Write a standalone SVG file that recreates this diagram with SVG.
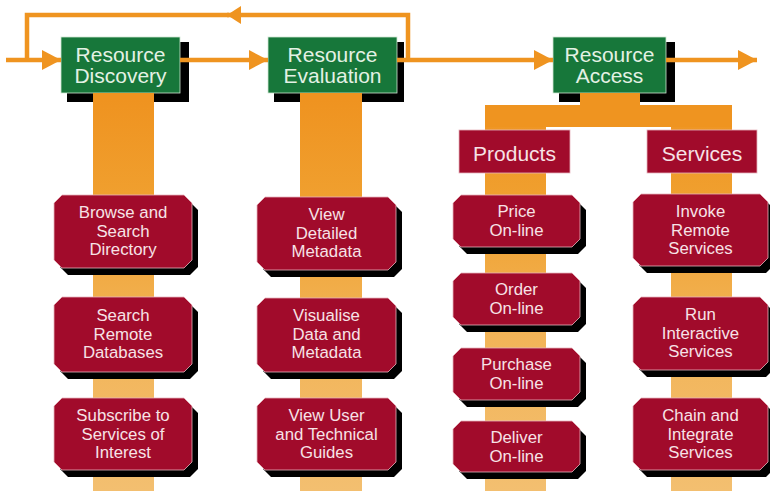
<svg xmlns="http://www.w3.org/2000/svg" width="770" height="491" viewBox="0 0 770 491">
<style>
.gb{fill:#17773a;stroke:#cfe6d2;stroke-width:0.8}
.gsh{fill:#000}
.rb{fill:#a10b2b;stroke:#e7b4bd;stroke-width:0.8}
.rsh{fill:#000}
.gt{font-family:"Liberation Sans",Arial,sans-serif;font-size:21px;fill:#e4f1e4;text-anchor:middle}
.rt{font-family:"Liberation Sans",Arial,sans-serif;font-size:16.8px;fill:#f7e2e6;text-anchor:middle}
.ht{font-family:"Liberation Sans",Arial,sans-serif;font-size:21px;fill:#f7e2e6;text-anchor:middle}
.ln{fill:none;stroke:#ef9420;stroke-width:4.5}
.bar{fill:url(#colg)}
.brk{fill:#ef9420}
</style>
<defs>
<linearGradient id="colg" gradientUnits="userSpaceOnUse" x1="0" y1="100" x2="0" y2="491">
<stop offset="0" stop-color="#ef9320"/>
<stop offset="0.3" stop-color="#f0a232"/>
<stop offset="0.6" stop-color="#f2b458"/>
<stop offset="1" stop-color="#f3bf70"/>
</linearGradient>
<marker id="ah" markerUnits="userSpaceOnUse" markerWidth="20" markerHeight="22" refX="19" refY="10" orient="auto">
<path d="M0,0 L19,10 L0,20 z" fill="#ef9420"/>
</marker>
<marker id="ahs" markerUnits="userSpaceOnUse" markerWidth="16" markerHeight="20" refX="14" refY="9" orient="auto">
<path d="M0,0 L14,9 L0,18 z" fill="#ef9420"/>
</marker>
</defs>
<rect width="770" height="491" fill="#ffffff"/>

<g id="discovery">
<rect class="gsh" x="67" y="42" width="122" height="60"/>
<rect class="gb" x="61" y="37" width="119" height="56"/>
<text class="gt" x="120.5" y="62">Resource</text>
<text class="gt" x="120.5" y="83">Discovery</text>
</g>
<g id="evaluation">
<rect class="gsh" x="274" y="42" width="130" height="60"/>
<rect class="gb" x="268" y="37" width="129" height="56"/>
<text class="gt" x="332.5" y="62">Resource</text>
<text class="gt" x="332.5" y="83">Evaluation</text>
</g>
<g id="access">
<rect class="gsh" x="559" y="42" width="116" height="60"/>
<rect class="gb" x="553" y="37" width="113" height="56"/>
<text class="gt" x="609.5" y="62">Resource</text>
<text class="gt" x="609.5" y="83">Access</text>
</g>

<g id="connectors">
<line class="ln" x1="6" y1="60" x2="61" y2="60" marker-end="url(#ah)"/>
<line class="ln" x1="180" y1="60" x2="268" y2="60" marker-end="url(#ah)"/>
<line class="ln" x1="397" y1="60" x2="553" y2="60" marker-end="url(#ah)"/>
<line class="ln" x1="666" y1="60" x2="757" y2="60" marker-end="url(#ah)"/>
<path class="ln" d="M408,60 V15 H227" marker-end="url(#ahs)"/>
<path class="ln" d="M229,15 H27 V60"/>
<rect class="bar" x="93" y="93" width="61" height="398"/>
<rect class="bar" x="300" y="93" width="62" height="398"/>
<path class="brk" d="M580,93 H640 V105 H732 V127 H485 V105 H580 z"/>
<rect class="bar" x="485" y="127" width="61" height="364"/>
<rect class="bar" x="671" y="127" width="61" height="364"/>
</g>

<g id="products">
<rect x="459" y="130" width="111" height="43" fill="#a10b2b" stroke="#e7b4bd" stroke-width="0.8"/>
<text class="ht" x="514.5" y="161">Products</text>
</g>
<g id="services">
<rect x="647" y="130" width="110" height="43" fill="#a10b2b" stroke="#e7b4bd" stroke-width="0.8"/>
<text class="ht" x="702" y="161">Services</text>
</g>

<g id="browse">
<polygon class="rsh" transform="translate(6,7)" points="62,195 184,195 192,203 192,260 184,268 62,268 54,260 54,203"/>
<polygon class="rb" points="62,195 184,195 192,203 192,260 184,268 62,268 54,260 54,203"/>
<text class="rt" x="123" y="218">Browse and</text>
<text class="rt" x="123" y="237">Search</text>
<text class="rt" x="123" y="255">Directory</text>
</g>
<g id="search-remote">
<polygon class="rsh" transform="translate(6,7)" points="62,297 184,297 192,305 192,364 184,372 62,372 54,364 54,305"/>
<polygon class="rb" points="62,297 184,297 192,305 192,364 184,372 62,372 54,364 54,305"/>
<text class="rt" x="123" y="321">Search</text>
<text class="rt" x="123" y="340">Remote</text>
<text class="rt" x="123" y="358">Databases</text>
</g>
<g id="subscribe">
<polygon class="rsh" transform="translate(6,7)" points="62,398 184,398 192,406 192,462 184,470 62,470 54,462 54,406"/>
<polygon class="rb" points="62,398 184,398 192,406 192,462 184,470 62,470 54,462 54,406"/>
<text class="rt" x="123" y="421">Subscribe to</text>
<text class="rt" x="123" y="440">Services of</text>
<text class="rt" x="123" y="458">Interest</text>
</g>

<g id="view-detailed">
<polygon class="rsh" transform="translate(6,7)" points="265,197 388,197 396,205 396,262 388,270 265,270 257,262 257,205"/>
<polygon class="rb" points="265,197 388,197 396,205 396,262 388,270 265,270 257,262 257,205"/>
<text class="rt" x="326.5" y="220">View</text>
<text class="rt" x="326.5" y="239">Detailed</text>
<text class="rt" x="326.5" y="257">Metadata</text>
</g>
<g id="visualise">
<polygon class="rsh" transform="translate(6,7)" points="265,298 388,298 396,306 396,364 388,372 265,372 257,364 257,306"/>
<polygon class="rb" points="265,298 388,298 396,306 396,364 388,372 265,372 257,364 257,306"/>
<text class="rt" x="326.5" y="321">Visualise</text>
<text class="rt" x="326.5" y="340">Data and</text>
<text class="rt" x="326.5" y="358">Metadata</text>
</g>
<g id="view-user">
<polygon class="rsh" transform="translate(6,7)" points="265,398 388,398 396,406 396,462 388,470 265,470 257,462 257,406"/>
<polygon class="rb" points="265,398 388,398 396,406 396,462 388,470 265,470 257,462 257,406"/>
<text class="rt" x="326.5" y="421">View User</text>
<text class="rt" x="326.5" y="440">and Technical</text>
<text class="rt" x="326.5" y="458">Guides</text>
</g>

<g id="price">
<polygon class="rsh" transform="translate(6,7)" points="461,195 572,195 580,203 580,239 572,247 461,247 453,239 453,203"/>
<polygon class="rb" points="461,195 572,195 580,203 580,239 572,247 461,247 453,239 453,203"/>
<text class="rt" x="516.5" y="217">Price</text>
<text class="rt" x="516.5" y="236">On-line</text>
</g>
<g id="order">
<polygon class="rsh" transform="translate(6,7)" points="461,273 572,273 580,281 580,317 572,325 461,325 453,317 453,281"/>
<polygon class="rb" points="461,273 572,273 580,281 580,317 572,325 461,325 453,317 453,281"/>
<text class="rt" x="516.5" y="295">Order</text>
<text class="rt" x="516.5" y="314">On-line</text>
</g>
<g id="purchase">
<polygon class="rsh" transform="translate(6,7)" points="461,348 572,348 580,356 580,392 572,400 461,400 453,392 453,356"/>
<polygon class="rb" points="461,348 572,348 580,356 580,392 572,400 461,400 453,392 453,356"/>
<text class="rt" x="516.5" y="370">Purchase</text>
<text class="rt" x="516.5" y="389">On-line</text>
</g>
<g id="deliver">
<polygon class="rsh" transform="translate(6,7)" points="461,421 572,421 580,429 580,464 572,472 461,472 453,464 453,429"/>
<polygon class="rb" points="461,421 572,421 580,429 580,464 572,472 461,472 453,464 453,429"/>
<text class="rt" x="516.5" y="443">Deliver</text>
<text class="rt" x="516.5" y="462">On-line</text>
</g>

<g id="invoke">
<polygon class="rsh" transform="translate(6,7)" points="641,194 760,194 768,202 768,258 760,266 641,266 633,258 633,202"/>
<polygon class="rb" points="641,194 760,194 768,202 768,258 760,266 641,266 633,258 633,202"/>
<text class="rt" x="700.5" y="217">Invoke</text>
<text class="rt" x="700.5" y="236">Remote</text>
<text class="rt" x="700.5" y="254">Services</text>
</g>
<g id="run">
<polygon class="rsh" transform="translate(6,7)" points="641,297 760,297 768,305 768,362 760,370 641,370 633,362 633,305"/>
<polygon class="rb" points="641,297 760,297 768,305 768,362 760,370 641,370 633,362 633,305"/>
<text class="rt" x="700.5" y="320">Run</text>
<text class="rt" x="700.5" y="339">Interactive</text>
<text class="rt" x="700.5" y="357">Services</text>
</g>
<g id="chain">
<polygon class="rsh" transform="translate(6,7)" points="641,398 760,398 768,406 768,462 760,470 641,470 633,462 633,406"/>
<polygon class="rb" points="641,398 760,398 768,406 768,462 760,470 641,470 633,462 633,406"/>
<text class="rt" x="700.5" y="421">Chain and</text>
<text class="rt" x="700.5" y="440">Integrate</text>
<text class="rt" x="700.5" y="458">Services</text>
</g>
</svg>
